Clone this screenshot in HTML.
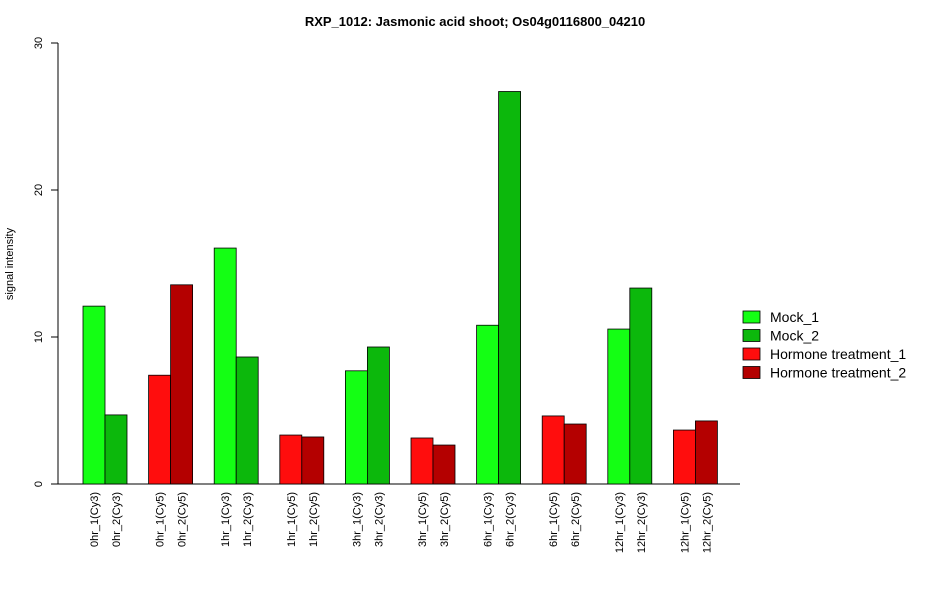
<!DOCTYPE html>
<html><head><meta charset="utf-8"><style>
body{margin:0;background:#fff}
svg{display:block;font-family:"Liberation Sans",Arial,sans-serif}
</style></head><body>
<svg id="chart" width="950" height="600" xmlns="http://www.w3.org/2000/svg">
<text x="475" y="26" text-anchor="middle" font-size="13" font-weight="bold">RXP_1012: Jasmonic acid shoot; Os04g0116800_04210</text>
<text transform="translate(13,264) rotate(-90)" text-anchor="middle" font-size="11">signal intensity</text>
<g id="axes"></g>
<g id="bars"></g>
<g id="labels"></g>
<g id="legend"></g>
</svg>
<script>
const categories=["0hr_1(Cy3)","0hr_2(Cy3)","0hr_1(Cy5)","0hr_2(Cy5)","1hr_1(Cy3)","1hr_2(Cy3)","1hr_1(Cy5)","1hr_2(Cy5)","3hr_1(Cy3)","3hr_2(Cy3)","3hr_1(Cy5)","3hr_2(Cy5)","6hr_1(Cy3)","6hr_2(Cy3)","6hr_1(Cy5)","6hr_2(Cy5)","12hr_1(Cy3)","12hr_2(Cy3)","12hr_1(Cy5)","12hr_2(Cy5)"];
const values=[12.1,4.7,7.4,13.55,16.05,8.64,3.33,3.2,7.7,9.32,3.13,2.65,10.8,26.7,4.63,4.08,10.54,13.33,3.67,4.29];
const seriesIdx=[0,1,2,3,0,1,2,3,0,1,2,3,0,1,2,3,0,1,2,3];
const seriesNames=["Mock_1","Mock_2","Hormone treatment_1","Hormone treatment_2"];
const seriesColors=["#14ff14","#0cb80c","#ff0d0d","#b40000"];
const yTicks=[0,10,20,30];
const NS="http://www.w3.org/2000/svg";
const y0=484,yTop=43,yMax=30;
const yScale=v=>y0-(v/yMax)*(y0-yTop);
const barW=22,groupStep=65.6,x0=83;
const xPos=i=>x0+Math.floor(i/2)*groupStep+(i%2)*barW;
function mk(tag,attrs,parent){const e=document.createElementNS(NS,tag);for(const k in attrs)e.setAttribute(k,attrs[k]);parent.appendChild(e);return e;}
const axes=document.getElementById('axes');
let l=mk('line',{x1:58,x2:58,y1:yScale(0),y2:yScale(30),stroke:'#000'},axes);


l=mk('line',{x1:58,x2:740,y1:y0,y2:y0,stroke:'#000'},axes);


yTicks.forEach(t=>{
  const y=yScale(t);
  const tk=mk('line',{x1:51,x2:58,y1:y,y2:y,stroke:'#000'},axes);
  
  
  const tx=mk('text',{x:0,y:0,transform:`translate(42,${y}) rotate(-90)`,'text-anchor':'middle','font-size':11},axes);
  tx.textContent=t;
  
  
});
const bars=document.getElementById('bars'),labels=document.getElementById('labels');
values.forEach((v,i)=>{
  const x=xPos(i),y=yScale(v);
  const r=mk('rect',{x:x,y:y,width:barW,height:y0-y,fill:seriesColors[seriesIdx[i]],stroke:'#000','stroke-width':0.8},bars);
  
  
  const t=mk('text',{transform:`translate(${x+barW/2+4},492) rotate(-90)`,'text-anchor':'end','font-size':11},labels);
  t.textContent=categories[i];
  
  
});
const lg=document.getElementById('legend');
seriesNames.forEach((n,i)=>{
  const y=317+i*18.5;
  const g=mk('g',{},lg);
  
  
  mk('rect',{x:743,y:y-6,width:17,height:12,fill:seriesColors[i],stroke:'#000','stroke-width':0.8},g);
  const t=mk('text',{x:770,y:y+5,'font-size':14},g);
  t.textContent=n;
});
</script>
</body></html>
